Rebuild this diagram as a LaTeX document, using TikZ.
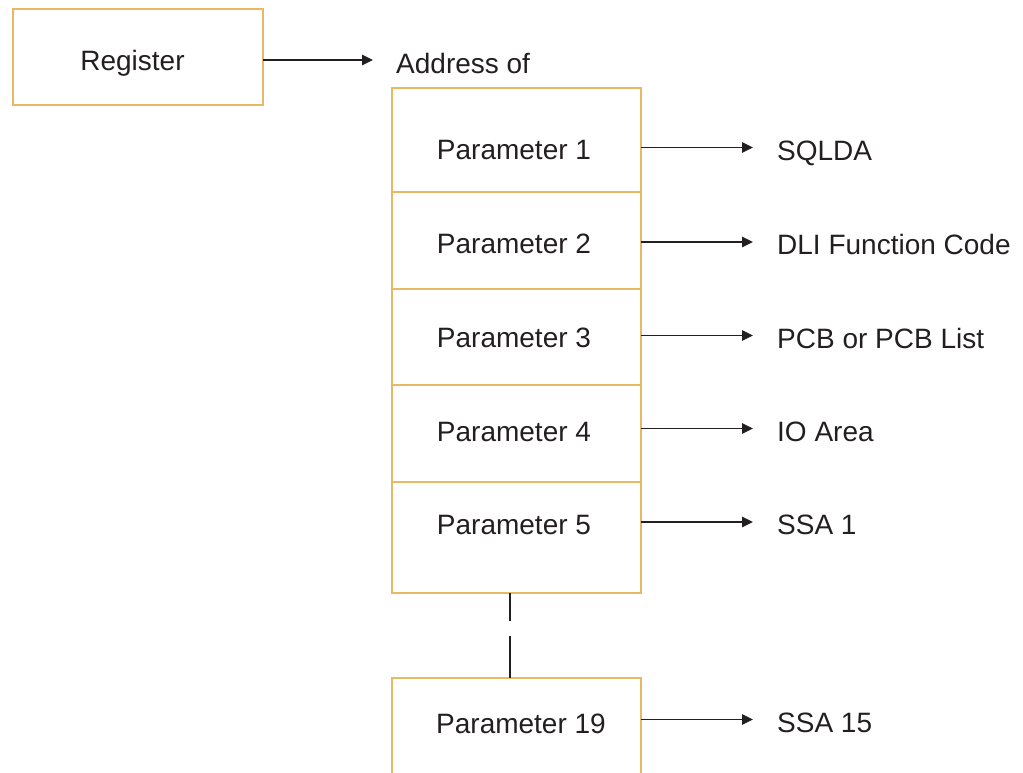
\documentclass[tikz,border=0pt]{standalone}
\usepackage{fontspec}
\setmainfont{Liberation Sans}
\usetikzlibrary{arrows.meta}
\definecolor{cellline}{RGB}{233,184,98}
\definecolor{ink}{RGB}{35,31,32}
\tikzset{
  cell/.style={draw=cellline, line width=2pt, rectangle, inner sep=0pt, outer sep=0pt,
               minimum width=249.5pt, anchor=north west},
  opencell/.style={rectangle, inner sep=0pt, outer sep=0pt, minimum width=249.5pt, anchor=north west},
  txt/.style={inner sep=0pt, text height=20pt, text depth=0pt, text=ink,
              font=\fontsize{28}{33.6}\selectfont},
  lbl/.style={txt, anchor=west},
  arr/.style={draw=ink, line width=1.6pt, -{Triangle[length=11pt,width=10.5pt]}},
  gapline/.style={draw=ink, line width=1.6pt, dash pattern=on 28pt off 14.5pt on 60pt}
}
\begin{document}
\begin{tikzpicture}[x=1pt,y=-1pt]
\useasboundingbox (0,0) rectangle (1023,772);

% register
\node[cell, minimum width=250pt, minimum height=96pt] (reg) at (12.5,8.5) {};
\node[txt] (regt) at (132.5,60) {Register};
\node[lbl] (addr) at (396,63) {Address of};
\draw[arr] (reg.east |- regt) -- ([xshift=-23pt,yshift=3pt]addr.west);

% parameter list cells
\node[cell, minimum height=103.5pt] (b1) at (391.5,88) {};
\node[cell, minimum height=97pt]    (b2) at (b1.south west) {};
\node[cell, minimum height=96.5pt]  (b3) at (b2.south west) {};
\node[cell, minimum height=97pt]    (b4) at (b3.south west) {};
\node[cell, minimum height=111pt]   (b5) at (b4.south west) {};
\node[opencell, minimum height=96pt] (b19) at (391.5,678) {};
\draw[draw=cellline, line width=2pt]
  (b19.south west) -- (b19.north west) -- (b19.north east) -- (b19.south east);

% cell texts
\node[txt] (t1)  at (514,149)   {Parameter 1};
\node[txt] (t2)  at (514,243.5) {Parameter 2};
\node[txt] (t3)  at (514,337)   {Parameter 3};
\node[txt] (t4)  at (514,431)   {Parameter 4};
\node[txt] (t5)  at (514,524)   {Parameter 5};
\node[txt] (t19) at (521,723.5) {Parameter 19};

% targets
\node[lbl] (l1)  at (777,150)   {SQLDA};
\node[lbl] (l2)  at (777,244.5) {DLI Function Code};
\node[lbl] (l3)  at (777,338)   {PCB or PCB List};
\node[lbl] (l4)  at (777,431)   {IO Area};
\node[lbl] (l5)  at (777,524.5) {SSA 1};
\node[lbl] (l19) at (777,722)   {SSA 15};

% pointers
\foreach \b/\l in {b1/l1, b2/l2, b3/l3, b4/l4, b5/l5, b19/l19}
  \draw[arr] ([yshift=2.5pt]\b.east |- \l.west) -- ([xshift=-24pt,yshift=2.5pt]\l.west);

% elided entries
\draw[gapline] ([xshift=-6.5pt]b5.south) -- ([xshift=-6.5pt]b5.south |- b19.north);
\end{tikzpicture}
\end{document}
